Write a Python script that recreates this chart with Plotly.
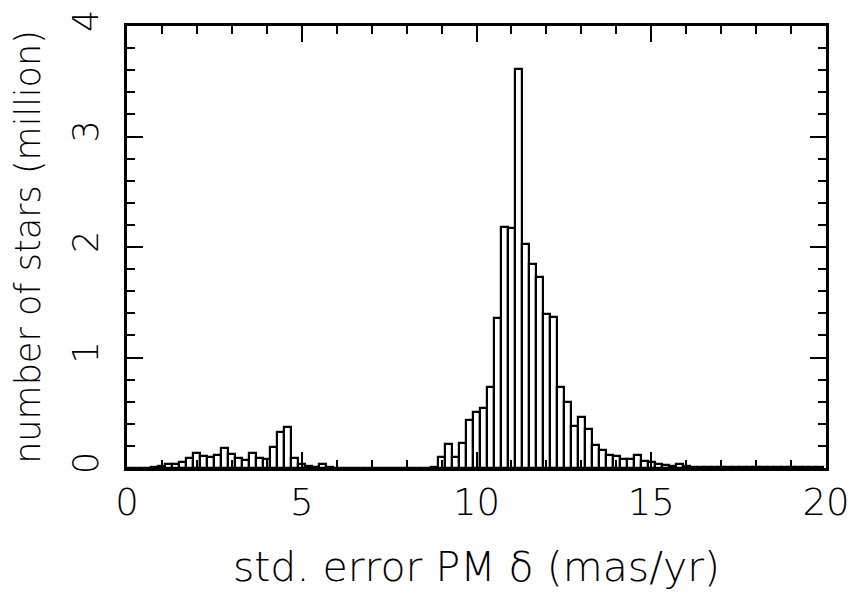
import plotly.graph_objects as go

bin_centers = [0.0, 0.2, 0.4, 0.6, 0.8, 1.0, 1.2, 1.4, 1.6, 1.8,
               2.0, 2.2, 2.4, 2.6, 2.8, 3.0, 3.2, 3.4, 3.6, 3.8,
               4.0, 4.2, 4.4, 4.6, 4.8, 5.0, 5.2, 5.4, 5.6, 5.8,
               6.0, 6.2, 6.4, 6.6, 6.8, 7.0, 7.2, 7.4, 7.6, 7.8,
               8.0, 8.2, 8.4, 8.6, 8.8, 9.0, 9.2, 9.4, 9.6, 9.8,
               10.0, 10.2, 10.4, 10.6, 10.8, 11.0, 11.2, 11.4, 11.6, 11.8,
               12.0, 12.2, 12.4, 12.6, 12.8, 13.0, 13.2, 13.4, 13.6, 13.8,
               14.0, 14.2, 14.4, 14.6, 14.8, 15.0, 15.2, 15.4, 15.6, 15.8,
               16.0, 16.2, 16.4, 16.6, 16.8, 17.0, 17.2, 17.4, 17.6, 17.8,
               18.0, 18.2, 18.4, 18.6, 18.8, 19.0, 19.2, 19.4, 19.6, 19.8]

stars_million = [0.0, 0.0, 0.0, 0.0, 0.005, 0.02, 0.04, 0.04, 0.05, 0.09,
                 0.14, 0.11, 0.10, 0.12, 0.18, 0.13, 0.09, 0.07, 0.14, 0.09,
                 0.08, 0.19, 0.33, 0.37, 0.09, 0.04, 0.015, 0.01, 0.04, 0.01,
                 0.004, 0.004, 0.004, 0.004, 0.004, 0.004, 0.004, 0.004, 0.004, 0.004,
                 0.004, 0.004, 0.004, 0.004, 0.01, 0.10, 0.22, 0.10, 0.23, 0.43,
                 0.51, 0.54, 0.73, 1.36, 2.18, 2.17, 3.61, 2.03, 1.85, 1.73,
                 1.39, 1.37, 0.73, 0.60, 0.38, 0.46, 0.35, 0.21, 0.16, 0.12,
                 0.11, 0.08, 0.08, 0.12, 0.06, 0.05, 0.04, 0.03, 0.02, 0.04,
                 0.02, 0.012, 0.01, 0.01, 0.008, 0.005, 0.005, 0.005, 0.005, 0.005,
                 0.005, 0.005, 0.005, 0.005, 0.005, 0.005, 0.005, 0.005, 0.005, 0.005]

x_tick_vals = [0, 5, 10, 15, 20]
x_tick_text = ["0", "5", "10", "15", "20"]
y_tick_vals = [0, 1, 2, 3, 4]
y_tick_text = ["0", "1", "2", "3", "4"]

x_title = "std. error PM δ (mas/yr)"
y_title = "number of stars (million)"

FONT = "DejaVu Sans"

fig = go.Figure()
fig.add_trace(go.Bar(
    x=bin_centers,
    y=stars_million,
    width=0.2,
    marker=dict(color="white", line=dict(color="black", width=2.2)),
    showlegend=False,
))

axis_common = dict(
    showline=True, linecolor="black", linewidth=2.5,
    mirror="ticks", ticks="inside", tickcolor="black", tickwidth=2,
    showgrid=False, zeroline=False, automargin=False,
    ticklabeloverflow="allow",
)

fig.update_layout(
    width=850, height=592,
    margin=dict(l=119, r=32, t=18, b=132),
    paper_bgcolor="white", plot_bgcolor="white",
    bargap=0,
    font=dict(family=FONT, color="black", size=34, weight=200),
    xaxis=dict(
        range=[0, 20],
        tickvals=x_tick_vals, ticktext=x_tick_text,
        ticklen=16, ticklabelstandoff=0,
        minor=dict(dtick=1, ticklen=8, ticks="inside", tickcolor="black", tickwidth=2),
        tickfont=dict(family=FONT, size=37, weight=200),
        title=dict(text=x_title, font=dict(family=FONT, size=41, weight=200), standoff=30),
        **axis_common,
    ),
    yaxis=dict(
        range=[0, 4],
        tickvals=y_tick_vals, ticktext=y_tick_text,
        ticklen=16, tickangle=-90, ticklabelstandoff=12,
        minor=dict(dtick=0.2, ticklen=8, ticks="inside", tickcolor="black", tickwidth=2),
        tickfont=dict(family=FONT, size=35, weight=200),
        title=dict(text=y_title, font=dict(family=FONT, size=35, weight=200), standoff=24),
        **axis_common,
    ),
)

fig.write_html("out.html")
